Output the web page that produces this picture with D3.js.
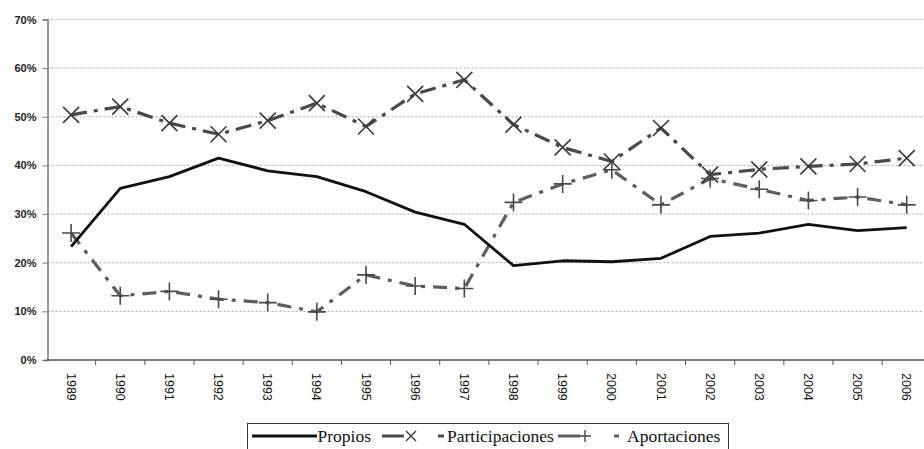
<!DOCTYPE html>
<html>
<head>
<meta charset="utf-8">
<script src="https://cdn.jsdelivr.net/npm/d3@7"></script>
<style>
  body { margin: 0; background: #fff; }
  svg { display: block; }
</style>
</head>
<body>
<div id="chart"></div>
<script>
// Data
const years = ["1989","1990","1991","1992","1993","1994","1995","1996","1997",
               "1998","1999","2000","2001","2002","2003","2004","2005","2006"];
const propios = [23.3, 35.3, 37.7, 41.5, 38.9, 37.7, 34.6, 30.4, 27.9,
                 19.4, 20.4, 20.2, 20.9, 25.4, 26.1, 27.9, 26.6, 27.2];
const participaciones = [50.4, 52.1, 48.7, 46.4, 49.2, 52.8, 48.0, 54.7, 57.6,
                         48.4, 43.7, 40.8, 47.7, 38.1, 39.2, 39.8, 40.3, 41.5];
const aportaciones = [26.1, 13.2, 14.1, 12.5, 11.8, 9.9, 17.5, 15.2, 14.7,
                      32.4, 36.2, 39.1, 31.9, 37.3, 35.1, 32.8, 33.5, 31.9];
const yTicks = [0, 10, 20, 30, 40, 50, 60, 70];

const width = 924;
const height = 449;

const svg = d3.select("#chart")
    .append("svg")
    .attr("width", width)
    .attr("height", height);

// Scales (plot runs past the right edge, like the cropped original)
const x = d3.scaleBand().domain(years).range([46.5, 931.3]).padding(0);
const y = d3.scaleLinear().domain([0, 70]).range([360, 19.5]);

// Gridlines
svg.append("g")
    .selectAll("line")
    .data(yTicks.filter(d => d > 0))
    .enter()
    .append("line")
    .attr("x1", 47.5)
    .attr("x2", width)
    .attr("y1", d => y(d))
    .attr("y2", d => y(d))
    .attr("stroke", "#a8a8a8")
    .attr("stroke-width", 1)
    .attr("stroke-dasharray", "2,2");

// Y axis
const yAxis = d3.axisLeft(y)
    .tickValues(yTicks)
    .tickFormat(d => d + "%")
    .tickSize(5)
    .tickPadding(6);

const gy = svg.append("g")
    .attr("transform", "translate(47.5,0)")
    .call(yAxis);
gy.select(".domain").attr("stroke", "#777").attr("stroke-width", 1.5);
gy.selectAll(".tick line").attr("stroke", "#777");
gy.selectAll("text")
    .attr("font-family", "Liberation Sans, Arial, sans-serif")
    .attr("font-size", 11)
    .attr("font-weight", "bold")
    .attr("fill", "#222");

// X axis: ticks between categories, labels rotated
const gx = svg.append("g")
    .attr("transform", `translate(0,${y(0)})`);
gx.append("line")
    .attr("x1", 46.5)
    .attr("x2", width)
    .attr("stroke", "#555")
    .attr("stroke-width", 1.5);
gx.selectAll("line.tk")
    .data(years)
    .enter()
    .append("line")
    .attr("class", "tk")
    .attr("x1", d => x(d) + x.bandwidth())
    .attr("x2", d => x(d) + x.bandwidth())
    .attr("y1", 0)
    .attr("y2", 5)
    .attr("stroke", "#555");
gx.selectAll("text")
    .data(years)
    .enter()
    .append("text")
    .attr("transform", d => `translate(${x(d) + x.bandwidth() / 2},13) rotate(90)`)
    .attr("dy", "0.35em")
    .attr("font-family", "Liberation Sans, Arial, sans-serif")
    .attr("font-size", 12.5)
    .attr("fill", "#111")
    .text(d => d);

const cx = (d, i) => x(years[i]) + x.bandwidth() / 2;

const line = d3.line()
    .x((d, i) => cx(d, i))
    .y(d => y(d));

// Series
svg.append("path")
    .datum(participaciones)
    .attr("fill", "none")
    .attr("stroke", "#4a4a4a")
    .attr("stroke-width", 3.2)
    .attr("stroke-dasharray", "16,7,4,7")
    .attr("d", line);

svg.append("path")
    .datum(aportaciones)
    .attr("fill", "none")
    .attr("stroke", "#5e5e5e")
    .attr("stroke-width", 3.2)
    .attr("stroke-dasharray", "14,8,4,8")
    .attr("d", line);

svg.append("path")
    .datum(propios)
    .attr("fill", "none")
    .attr("stroke", "#111")
    .attr("stroke-width", 2.8)
    .attr("stroke-linejoin", "round")
    .attr("d", line);

// Markers
const s = 8;
svg.append("g")
    .selectAll("path")
    .data(participaciones)
    .enter()
    .append("path")
    .attr("d", (d, i) => {
        const px = cx(d, i), py = y(d);
        return `M${px - s},${py - s}L${px + s},${py + s}M${px - s},${py + s}L${px + s},${py - s}`;
    })
    .attr("stroke", "#3a3a3a")
    .attr("stroke-width", 1.6);

svg.append("g")
    .selectAll("path")
    .data(aportaciones)
    .enter()
    .append("path")
    .attr("d", (d, i) => {
        const px = cx(d, i), py = y(d);
        return `M${px - 9},${py}L${px + 9},${py}M${px},${py - 9}L${px},${py + 9}`;
    })
    .attr("stroke", "#4a4a4a")
    .attr("stroke-width", 1.6);

// Legend
const legend = svg.append("g");
legend.append("rect")
    .attr("x", 247.5)
    .attr("y", 423.5)
    .attr("width", 481)
    .attr("height", 32)
    .attr("fill", "#fff")
    .attr("stroke", "#333")
    .attr("stroke-width", 1);

const ly = 436;
legend.append("line")
    .attr("x1", 252).attr("x2", 317)
    .attr("y1", ly).attr("y2", ly)
    .attr("stroke", "#111").attr("stroke-width", 2.8);
legend.append("line")
    .attr("x1", 382).attr("x2", 444)
    .attr("y1", ly).attr("y2", ly)
    .attr("stroke", "#4a4a4a").attr("stroke-width", 3.2)
    .attr("stroke-dasharray", "22,34,6");
legend.append("path")
    .attr("d", `M${411 - 5},${ly - 5}L${411 + 5},${ly + 5}M${411 - 5},${ly + 5}L${411 + 5},${ly - 5}`)
    .attr("stroke", "#3a3a3a").attr("stroke-width", 1.4);
legend.append("line")
    .attr("x1", 558).attr("x2", 622)
    .attr("y1", ly).attr("y2", ly)
    .attr("stroke", "#5e5e5e").attr("stroke-width", 3.2)
    .attr("stroke-dasharray", "22,34,5");
legend.append("path")
    .attr("d", `M${585 - 6},${ly}L${585 + 6},${ly}M${585},${ly - 6}L${585},${ly + 6}`)
    .attr("stroke", "#4a4a4a").attr("stroke-width", 1.4);

const legendTexts = [["Propios", 317.5], ["Participaciones", 447], ["Aportaciones", 627]];
legend.selectAll("text")
    .data(legendTexts)
    .enter()
    .append("text")
    .attr("x", d => d[1])
    .attr("y", 441.5)
    .attr("font-family", "Liberation Serif, Times New Roman, serif")
    .attr("font-size", 17.5)
    .attr("fill", "#111")
    .text(d => d[0]);
</script>
</body>
</html>
